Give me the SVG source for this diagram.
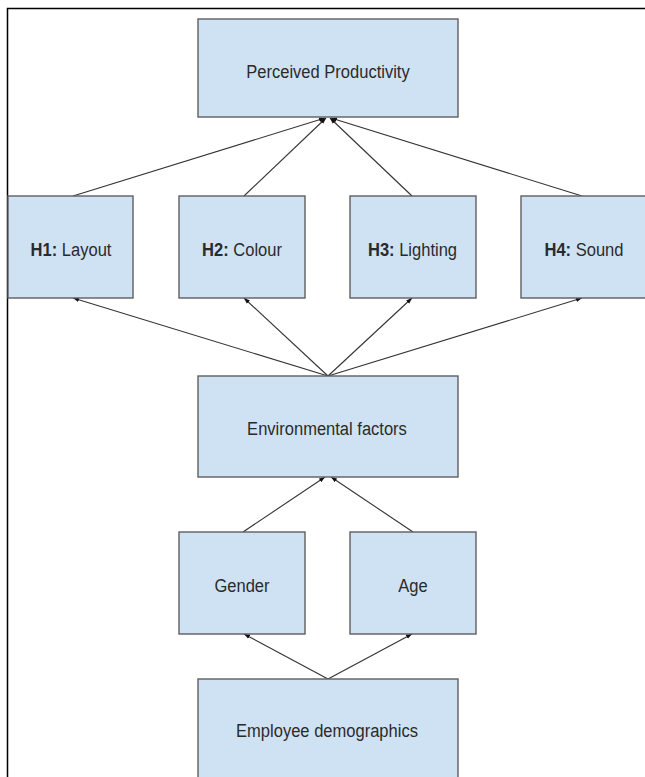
<svg xmlns="http://www.w3.org/2000/svg" width="645" height="777" viewBox="0 0 645 777">
<defs>
<marker id="ah" viewBox="0 0 8 6" refX="8" refY="3" markerWidth="6" markerHeight="5" markerUnits="userSpaceOnUse" orient="auto">
<path d="M0,0 L8,3 L0,6 Z" fill="#111"/>
</marker>
<style>
.box{fill:#cfe2f3;stroke:#5f5f5f;stroke-width:1.4}
.t{font-family:"Liberation Sans",Arial,sans-serif;font-size:19px;fill:#2a2a2a;text-anchor:middle}
.b{font-weight:bold}
.c line{stroke:#333;stroke-width:1.1;marker-end:url(#ah)}
</style>
</defs>
<rect width="645" height="777" fill="#fff"/>
<path d="M7.5,777 V8.5 H645" fill="none" stroke="#000" stroke-width="1.5"/>
<g class="c" id="connectors">
<line x1="73" y1="196" x2="325" y2="118"/>
<line x1="244" y1="196" x2="326" y2="118"/>
<line x1="412" y1="196" x2="330" y2="118"/>
<line x1="582" y1="196" x2="331" y2="118"/>
<line x1="328" y1="376" x2="73" y2="298"/>
<line x1="328" y1="376" x2="244" y2="298"/>
<line x1="328" y1="376" x2="412" y2="298"/>
<line x1="328" y1="376" x2="582" y2="298"/>
<line x1="243" y1="532" x2="325" y2="477"/>
<line x1="413" y1="532" x2="331" y2="477"/>
<line x1="328" y1="679" x2="244" y2="634"/>
<line x1="328" y1="679" x2="412" y2="634"/>
</g>
<g id="perceived"><rect class="box" x="198" y="19" width="260" height="98"/><text class="t" transform="translate(328,77.5) scale(0.87,1)">Perceived Productivity</text></g>
<g id="h1"><rect class="box" x="8" y="196" width="125" height="102"/><text class="t" transform="translate(71,256) scale(0.87,1)"><tspan class="b">H1:</tspan> Layout</text></g>
<g id="h2"><rect class="box" x="179" y="196" width="126" height="102"/><text class="t" transform="translate(242,256) scale(0.87,1)"><tspan class="b">H2:</tspan> Colour</text></g>
<g id="h3"><rect class="box" x="350" y="196" width="126" height="102"/><text class="t" transform="translate(412.5,256) scale(0.87,1)"><tspan class="b">H3:</tspan> Lighting</text></g>
<g id="h4"><rect class="box" x="521" y="196" width="130" height="102"/><text class="t" transform="translate(584,256) scale(0.87,1)"><tspan class="b">H4:</tspan> Sound</text></g>
<g id="env"><rect class="box" x="198" y="376" width="260" height="101"/><text class="t" transform="translate(327,435) scale(0.87,1)">Environmental factors</text></g>
<g id="gender"><rect class="box" x="179" y="532" width="126" height="102"/><text class="t" transform="translate(242,592) scale(0.87,1)">Gender</text></g>
<g id="age"><rect class="box" x="350" y="532" width="126" height="102"/><text class="t" transform="translate(413,592) scale(0.87,1)">Age</text></g>
<g id="employee"><rect class="box" x="198" y="679" width="260" height="110"/><text class="t" transform="translate(327,737) scale(0.87,1)">Employee demographics</text></g>
</svg>
